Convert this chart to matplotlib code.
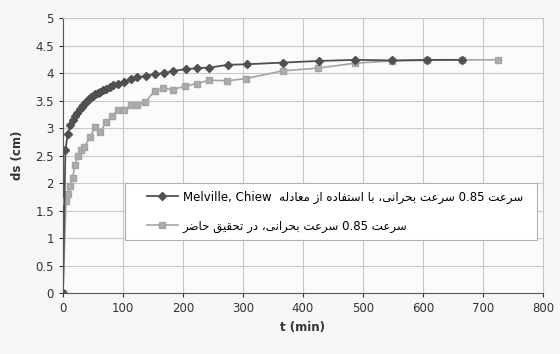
import matplotlib
matplotlib.use('Agg')
import matplotlib.pyplot as plt
from matplotlib.patches import Rectangle
from matplotlib.ticker import MultipleLocator, FormatStrFormatter

# Melville, Chiew equation (diamonds)
t_melville = [0, 4, 8, 12, 16, 20, 24, 28, 31, 34, 37, 40, 43, 46, 50, 54, 58, 62,
              67, 72, 78, 84, 92, 102, 113, 124, 138, 153, 169, 184, 205, 224, 244,
              275, 306, 366, 426, 487, 548, 607, 665]
ds_melville = [0, 2.6, 2.9, 3.05, 3.15, 3.22, 3.28, 3.34, 3.38, 3.42, 3.46, 3.5, 3.53,
               3.56, 3.59, 3.62, 3.64, 3.66, 3.69, 3.71, 3.75, 3.78, 3.81, 3.84, 3.89,
               3.92, 3.95, 3.98, 4.0, 4.04, 4.07, 4.09, 4.10, 4.15, 4.16, 4.19, 4.22,
               4.24, 4.23, 4.24, 4.24]

# present study (squares)
t_study = [0, 5, 8, 12, 16, 20, 25, 30, 35, 45, 53, 62, 72, 82, 92, 102, 114, 124,
           137, 153, 167, 183, 203, 223, 244, 274, 305, 366, 425, 487, 548, 607, 665, 725]
ds_study = [0, 1.68, 1.8, 1.95, 2.1, 2.33, 2.5, 2.6, 2.65, 2.83, 3.02, 2.93, 3.11,
            3.22, 3.33, 3.33, 3.42, 3.42, 3.47, 3.68, 3.72, 3.70, 3.76, 3.81, 3.87,
            3.86, 3.90, 4.04, 4.09, 4.18, 4.22, 4.23, 4.24, 4.24]

label_melville = 'سرعت 0.85 سرعت بحرانی، با استفاده از معادله'
label_study = 'سرعت 0.85 سرعت بحرانی، در تحقیق حاضر'

# presentation forms: isolated, final, initial, medial
FORMS = {
    'ا': (0xFE8D, 0xFE8E, None, None),
    'ب': (0xFE8F, 0xFE90, 0xFE91, 0xFE92),
    'ت': (0xFE95, 0xFE96, 0xFE97, 0xFE98),
    'ح': (0xFEA1, 0xFEA2, 0xFEA3, 0xFEA4),
    'د': (0xFEA9, 0xFEAA, None, None),
    'ر': (0xFEAD, 0xFEAE, None, None),
    'ز': (0xFEAF, 0xFEB0, None, None),
    'س': (0xFEB1, 0xFEB2, 0xFEB3, 0xFEB4),
    'ض': (0xFEBD, 0xFEBE, 0xFEBF, 0xFEC0),
    'ع': (0xFEC9, 0xFECA, 0xFECB, 0xFECC),
    'ف': (0xFED1, 0xFED2, 0xFED3, 0xFED4),
    'ق': (0xFED5, 0xFED6, 0xFED7, 0xFED8),
    'ل': (0xFEDD, 0xFEDE, 0xFEDF, 0xFEE0),
    'م': (0xFEE1, 0xFEE2, 0xFEE3, 0xFEE4),
    'ن': (0xFEE5, 0xFEE6, 0xFEE7, 0xFEE8),
    'ه': (0xFEE9, 0xFEEA, 0xFEEB, 0xFEEC),
    'ی': (0xFEEF, 0xFEF0, 0xFEF3, 0xFEF4),
}

def shape(word):
    out = []
    for i, c in enumerate(word):
        if c not in FORMS:
            out.append(c)
            continue
        f = FORMS[c]
        prev = word[i-1] if i > 0 else ''
        nxt = word[i+1] if i + 1 < len(word) else ''
        jp = prev in FORMS and FORMS[prev][2] is not None
        jn = nxt in FORMS and f[2] is not None
        k = 3 if (jp and jn) else 1 if jp else 2 if jn else 0
        out.append(chr(f[k]))
    return ''.join(out)

def rtl(text):
    vis = []
    for tok in reversed(text.split(' ')):
        if any(c in FORMS for c in tok):
            vis.append(shape(tok)[::-1])
        else:
            vis.append(tok)
    return ' '.join(vis)

plt.rcParams['font.family'] = ['DejaVu Sans']
fig = plt.figure(figsize=(5.6, 3.54), dpi=100)
fig.patch.set_facecolor('#f7f7f5')
ax = fig.add_axes([0.1125, 0.172, 0.857, 0.777])
ax.set_facecolor('#fbfbfa')

ax.plot(t_melville, ds_melville, color='#505050', lw=1.3, marker='D', ms=4.5,
        mfc='#505050', mec='#505050', label='Melville, Chiew  ' + rtl(label_melville), zorder=4)
ax.plot(t_study, ds_study, color='#a4a4a4', lw=1.2, marker='s', ms=5,
        mfc='#acacac', mec='#a4a4a4', label=rtl(label_study), zorder=3)

ax.set_xlim(0, 800)
ax.set_ylim(0, 5)
ax.xaxis.set_major_locator(MultipleLocator(100))
ax.yaxis.set_major_locator(MultipleLocator(0.5))
ax.yaxis.set_major_formatter(FormatStrFormatter('%g'))
ax.grid(True, color='#c8c8c8', lw=0.8)
ax.tick_params(labelsize=8.5, colors='#333333', length=3)
for s in ['top', 'right']:
    ax.spines[s].set_color('#c8c8c8')
for s in ['left', 'bottom']:
    ax.spines[s].set_color('#555555')

ax.set_xlabel('t (min)', fontsize=8.5, fontweight='bold', color='#333333', labelpad=4)
ax.set_ylabel('ds (cm)', fontsize=8.5, fontweight='bold', color='#333333', labelpad=8)

# legend box drawn separately so the entries can sit inset from its left edge
box = Rectangle((0.129, 0.193), 0.858, 0.207, transform=ax.transAxes, facecolor='white',
                edgecolor='#b0b0b0', lw=0.8, zorder=5)
ax.add_patch(box)
leg = ax.legend(loc='center left', bbox_to_anchor=(0.175, 0.2965), borderaxespad=0,
                fontsize=8.5, handlelength=2.6, handletextpad=0.45, borderpad=0,
                labelspacing=1.35, frameon=False)
leg.set_zorder(6)

fig.savefig('out.png', dpi=100, facecolor=fig.get_facecolor())
